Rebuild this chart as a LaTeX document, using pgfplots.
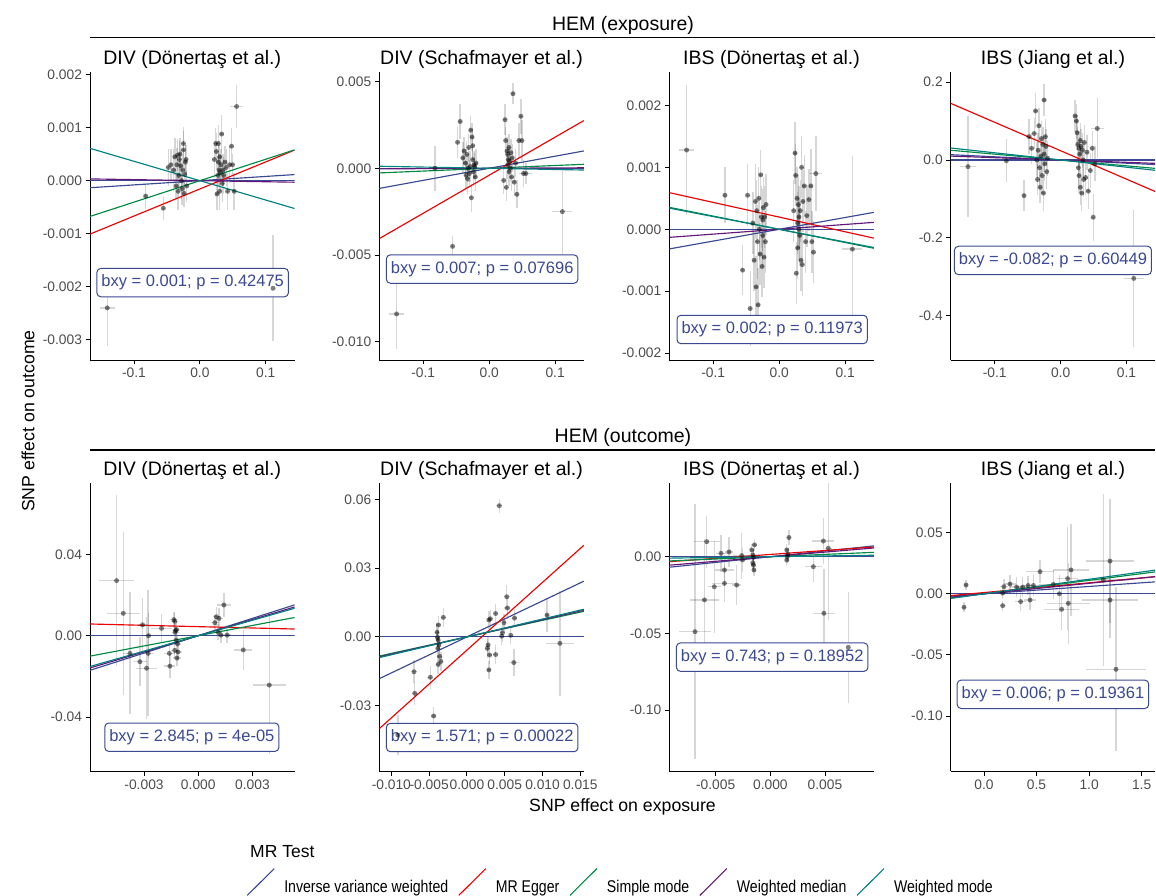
\documentclass[border=0pt]{standalone}
\usepackage{fontspec}
\setmainfont{Liberation Sans}
\newfontfamily\legfont[FakeStretch=0.83]{Liberation Sans}
\usepackage{pgfplots}
\usepackage{pgfplotstable}
\pgfplotsset{compat=1.18}

\definecolor{ivw}{HTML}{3B4992}
\definecolor{egger}{HTML}{EE0000}
\definecolor{smode}{HTML}{008B45}
\definecolor{wmed}{HTML}{631879}
\definecolor{wmode}{HTML}{008280}

% shared exposure (HEM) SNPs for the top row; a..d = outcome effects of the 4 panels
\pgfplotstableread{
x ex a ea b eb c ec d ed
-0.1405 0.0114 -0.00240 0.00072 -0.0084 0.0020 0.00128 0.00105 -0.0171 0.130
-0.0823 0.0025 -0.00029 0.00025 0.0000 0.0013 0.00055 0.00045 -0.0020 0.055
-0.0555 0.0025 -0.00052 0.00022 -0.0045 0.0006 -0.00066 0.00040 -0.0916 0.040
0.1110 0.0150 -0.00203 0.00100 -0.0025 0.0025 -0.00032 0.00150 -0.3040 0.175
0.0556 0.0100 0.00140 0.00041 -0.0003 0.0006 0.00090 0.00060 0.0810 0.077
0.0495 0.0030 0.00030 0.00020 0.0016 0.0012 -0.00020 0.00050 -0.1470 0.060
-0.048 0.003 0.00025 0.00035 0.0015 0.0009 0.00055 0.0005 0.060 0.045
-0.044 0.003 0.00030 0.00030 0.0027 0.0010 -0.00128 0.0006 0.030 0.040
-0.040 0.003 0.00020 0.00040 0.0006 0.0009 0.00010 0.0005 0.068 0.040
-0.038 0.003 0.00045 0.00035 0.0010 0.0008 -0.00050 0.0005 0.126 0.045
-0.036 0.003 -0.00010 0.00025 0.0003 0.0008 0.00045 0.0006 0.000 0.045
-0.035 0.003 0.00030 0.00032 -0.0004 0.0008 -0.00093 0.0005 -0.050 0.040
-0.034 0.003 0.00048 0.00030 0.0008 0.0008 0.00030 0.0005 0.025 0.045
-0.033 0.003 -0.00020 0.00035 -0.0006 0.0009 -0.00020 0.0006 0.088 0.045
-0.032 0.003 0.00010 0.00028 0.0000 0.0008 -0.00122 0.0006 -0.020 0.045
-0.031 0.003 0.00040 0.00035 0.0012 0.0008 0.00050 0.0005 -0.070 0.040
-0.030 0.003 0.00050 0.00030 -0.0003 0.0008 0.00000 0.0005 0.010 0.045
-0.029 0.003 0.00028 0.00030 0.0001 0.0009 -0.00040 0.0005 0.055 0.045
-0.028 0.003 0.00000 0.00035 0.0022 0.0008 0.00088 0.0004 -0.040 0.045
-0.027 0.003 -0.00015 0.00030 -0.0017 0.0008 0.00020 0.0005 0.040 0.045
-0.026 0.003 0.00020 0.00028 0.0018 0.0008 -0.00060 0.0005 -0.085 0.045
-0.025 0.003 0.00058 0.00035 0.0013 0.0008 0.00015 0.0005 0.154 0.040
-0.025 0.003 0.00070 0.00032 0.0005 0.0008 -0.00010 0.0005 0.015 0.045
-0.024 0.003 -0.00024 0.00025 -0.0002 0.0008 0.00035 0.0005 -0.010 0.045
-0.023 0.003 0.00012 0.00030 0.0002 0.0008 -0.00045 0.0005 0.060 0.045
-0.022 0.003 0.00035 0.00035 0.0001 0.0008 0.00020 0.0005 0.035 0.045
-0.021 0.003 0.00040 0.00028 -0.0005 0.0008 -0.00020 0.0005 -0.030 0.045
-0.020 0.003 -0.00010 0.00030 0.0003 0.0008 0.00040 0.0005 0.005 0.045
0.022 0.003 0.00040 0.00035 -0.0007 0.0008 0.00030 0.0005 0.113 0.040
0.024 0.003 0.00070 0.00030 0.0028 0.0009 0.00123 0.0005 0.100 0.045
0.025 0.003 0.00055 0.00035 0.0016 0.0008 0.00087 0.0005 0.070 0.045
0.026 0.003 -0.00025 0.00030 -0.0011 0.0008 -0.00071 0.0005 0.040 0.045
0.027 0.003 0.00010 0.00035 0.0010 0.0008 0.00050 0.0005 -0.020 0.045
0.028 0.003 0.00035 0.00032 0.0008 0.0008 0.00010 0.0005 0.030 0.045
0.028 0.003 0.00070 0.00035 0.0002 0.0008 -0.00030 0.0005 -0.040 0.045
0.029 0.003 0.00020 0.00030 0.0005 0.0008 0.00040 0.0005 0.015 0.045
0.030 0.003 -0.00020 0.00035 -0.0002 0.0008 0.00000 0.0005 0.050 0.045
0.030 0.003 0.00045 0.00030 0.0012 0.0008 0.00020 0.0005 -0.070 0.045
0.031 0.003 0.00015 0.00035 0.0004 0.0008 -0.00010 0.0005 0.035 0.045
0.032 0.003 0.00030 0.00030 0.0000 0.0008 0.00030 0.0005 -0.085 0.045
0.033 0.003 0.00088 0.00035 0.0009 0.0008 -0.00050 0.0005 0.025 0.045
0.034 0.003 -0.00005 0.00035 -0.0005 0.0008 0.00100 0.0005 0.000 0.045
0.035 0.003 0.00020 0.00030 0.0006 0.0008 -0.00057 0.0005 -0.050 0.045
0.036 0.003 0.00010 0.00035 0.0043 0.0006 0.00045 0.0005 0.045 0.045
0.038 0.003 0.00035 0.00030 -0.0008 0.0008 0.00070 0.0005 -0.045 0.045
0.040 0.003 0.00025 0.00035 0.0003 0.0008 -0.00020 0.0005 0.020 0.045
0.042 0.003 -0.00020 0.00035 -0.0015 0.0008 0.00022 0.0005 -0.080 0.045
0.045 0.003 0.00030 0.00035 0.0016 0.0010 0.00048 0.0005 -0.027 0.045
0.048 0.003 0.00065 0.00035 0.0030 0.0010 0.00070 0.0006 0.030 0.045
0.052 0.003 -0.00020 0.00035 -0.0003 0.0008 -0.00037 0.0005 -0.010 0.045
}\toptab

\pgfplotstableread{
x y ex ey
-0.00452 0.0271 0.00097 0.042
-0.00415 0.0110 0.00090 0.040
-0.00378 -0.0087 0.00040 0.030
-0.00323 -0.0128 0.00040 0.012
-0.00308 0.0053 0.00030 0.013
-0.00286 -0.0160 0.00060 0.025
-0.00277 -0.0087 0.00030 0.031
-0.00275 0.0000 0.00030 0.011
-0.00203 0.0036 0.00060 0.007
-0.00157 -0.0150 0.00030 0.006
-0.00160 -0.0087 0.00030 0.006
-0.00135 0.0079 0.00020 0.004
-0.00130 0.0071 0.00020 0.004
-0.00128 0.0017 0.00020 0.004
-0.00125 0.0026 0.00020 0.004
-0.00122 -0.0023 0.00020 0.004
-0.00130 -0.0072 0.00020 0.004
-0.00118 -0.0110 0.00020 0.004
-0.00115 -0.0040 0.00020 0.004
-0.00120 0.0030 0.00020 0.004
-0.00112 -0.0080 0.00020 0.004
0.00092 0.0064 0.00020 0.004
0.00100 0.0093 0.00020 0.005
0.00115 0.0085 0.00020 0.005
0.00142 0.0151 0.00040 0.006
0.00110 0.0017 0.00020 0.004
0.00125 0.0003 0.00020 0.004
0.00160 0.0003 0.00020 0.004
0.00249 -0.0070 0.00050 0.010
0.00393 -0.0243 0.00090 0.034
}\tabE

\pgfplotstableread{
x y ex ey
0.00428 0.0572 0.0004 0.0030
-0.00700 -0.0152 0.0004 0.0050
-0.00690 -0.0246 0.0004 0.0050
-0.00484 -0.0176 0.0004 0.0050
-0.00440 -0.0345 0.0003 0.0040
-0.00914 -0.0428 0.0013 0.0087
-0.00377 0.0052 0.0003 0.0040
-0.00312 0.0085 0.0003 0.0040
-0.00390 -0.0002 0.0003 0.0040
-0.00380 -0.0014 0.0003 0.0040
-0.00370 -0.0035 0.0003 0.0040
-0.00385 -0.0050 0.0003 0.0040
-0.00360 -0.0085 0.0003 0.0040
-0.00345 -0.0107 0.0003 0.0040
-0.00380 -0.0120 0.0003 0.0040
-0.00395 0.0020 0.0003 0.0040
0.00290 0.0074 0.0003 0.0040
0.00310 0.0079 0.0003 0.0040
0.00380 0.0102 0.0003 0.0040
0.00280 -0.0035 0.0003 0.0040
0.00270 -0.0050 0.0003 0.0040
0.00300 -0.0079 0.0003 0.0040
0.00290 -0.0144 0.0003 0.0040
0.00380 -0.0077 0.0003 0.0040
0.00527 0.0175 0.0004 0.0050
0.00535 0.0126 0.0004 0.0050
0.00490 0.0062 0.0003 0.0040
0.00470 0.0018 0.0003 0.0040
0.00460 0.0003 0.0003 0.0040
0.00580 0.0007 0.0003 0.0040
0.00630 0.0082 0.0003 0.0040
0.00620 -0.0112 0.0007 0.0060
0.01230 -0.0028 0.0018 0.0230
0.01060 0.0095 0.0003 0.0075
}\tabF

\pgfplotstableread{
x y ex ey
-0.00689 -0.0489 0.0015 0.083
-0.00582 0.0098 0.0012 0.017
-0.00603 -0.0282 0.0013 0.040
-0.00513 -0.0196 0.0006 0.030
-0.00451 0.0022 0.0005 0.012
-0.00420 -0.0087 0.0009 0.010
-0.00420 -0.0174 0.0011 0.012
-0.00378 0.0031 0.0004 0.010
-0.00308 -0.0185 0.0004 0.013
-0.00262 0.0007 0.0008 0.015
-0.00255 -0.0021 0.0003 0.008
-0.00170 0.0044 0.0002 0.004
-0.00160 0.0011 0.0002 0.004
-0.00155 -0.0004 0.0002 0.004
-0.00160 -0.0040 0.0002 0.004
-0.00155 -0.0055 0.0002 0.004
-0.00150 -0.0087 0.0002 0.004
-0.00145 0.0077 0.0002 0.004
0.00150 0.0044 0.0002 0.004
0.00160 0.0015 0.0002 0.004
0.00170 0.0125 0.0002 0.005
0.00150 -0.0022 0.0002 0.004
0.00155 0.0000 0.0002 0.004
0.00393 -0.0065 0.0008 0.010
0.00485 0.0102 0.0010 0.015
0.00530 0.0055 0.0003 0.047
0.00490 -0.0369 0.0010 0.029
0.00713 -0.0591 0.0012 0.036
}\tabG

\pgfplotstableread{
x y ex ey
-0.190 -0.0110 0.020 0.004
-0.171 0.0072 0.020 0.004
0.178 -0.0097 0.030 0.004
0.190 0.0058 0.040 0.006
0.178 0.0005 0.030 0.005
0.247 0.0080 0.060 0.007
0.310 0.0055 0.060 0.008
0.349 -0.0064 0.050 0.008
0.368 0.0055 0.060 0.008
0.420 0.0068 0.060 0.008
0.438 -0.0051 0.060 0.008
0.470 0.0068 0.070 0.009
0.533 0.0181 0.135 0.0095
0.660 0.0077 0.135 0.012
0.717 0.0000 0.150 0.015
0.739 -0.0127 0.166 0.017
0.796 0.0124 0.100 0.042
0.802 -0.0078 0.206 0.033
0.828 0.0195 0.174 0.038
1.135 0.0113 0.246 0.070
1.199 0.0268 0.230 0.051
1.199 -0.0051 0.270 0.031
1.256 -0.0618 0.285 0.067
}\tabH

\tikzset{
  lbl/.style={draw=ivw, line width=1pt, rounded corners=4pt, fill=white, text=ivw,
    font=\fontsize{16.5}{18}\selectfont, inner xsep=4.5pt, inner ysep=0pt,
    minimum height=28.4pt},
}
\pgfplotsset{
  every axis title/.style={at={(0.5,1)}, anchor=base, yshift=8pt,
    font=\fontsize{19.5}{22}\selectfont},
  panel/.style={
    scale only axis, width=204.5pt, anchor=south west,
    scaled x ticks=false, scaled y ticks=false,
    axis lines=left, axis line style={-, line width=0.9pt, black},
    tick align=outside, major tick length=4.5pt,
    every tick/.style={black, line width=0.9pt},
    ticklabel style={font=\fontsize{13.8}{15}\selectfont, text=black!70},
    clip=true,
  },
  toprow/.style={panel, height=287.7pt, xmin=-0.1667, xmax=0.1435,
    xtick={-0.1,0,0.1}, xticklabels={-0.1,0.0,0.1}},
  botrow/.style={panel, height=288pt},
  pts/.style={only marks, mark=*, mark size=2.5pt,
    mark options={solid, draw=black, draw opacity=0, fill=black, fill opacity=0.5},
    error bars/.cd, x dir=both, x explicit, y dir=both, y explicit,
    error mark=none, error bar style={line width=1.4pt, draw=black, draw opacity=0.16}},
  mrline/.style={line width=1.15pt, no marks},
}

\begin{document}
\begin{tikzpicture}
\useasboundingbox (0pt,0pt) rectangle (1156pt,896pt);

% ---------- top row: HEM exposure ----------
\begin{axis}[toprow, at={(90pt,536pt)}, title={DIV (Dönertaş et al.)},
  ymin=-0.003383, ymax=0.002045,
  ytick={-0.003,-0.002,-0.001,0,0.001,0.002},
  yticklabels={-0.003,-0.002,-0.001,0.000,0.001,0.002}]
\addplot[pts] table[x=x, y=a, x error=ex, y error=ea] {\toptab};
\addplot[mrline, ivw] coordinates {(-0.1667,0) (0.1435,0)};
\addplot[mrline, ivw] coordinates {(-0.1667,-0.000133) (0.1435,0.000115)};
\addplot[mrline, egger] coordinates {(-0.1667,-0.001008) (0.1435,0.000577)};
\addplot[mrline, smode] coordinates {(-0.1667,-0.000675) (0.1435,0.000581)};
\addplot[mrline, wmed] coordinates {(-0.1667,0.0000333) (0.1435,-0.0000287)};
\addplot[mrline, wmode] coordinates {(-0.1667,0.00061) (0.1435,-0.000525)};
\node[lbl] at (rel axis cs:0.502,0.269) {bxy = 0.001; p = 0.42475};
\end{axis}

\begin{axis}[toprow, at={(379.3pt,536pt)}, title={DIV (Schafmayer et al.)},
  ymin=-0.011055, ymax=0.005536,
  ytick={-0.01,-0.005,0,0.005},
  yticklabels={-0.010,-0.005,0.000,0.005}]
\addplot[pts] table[x=x, y=b, x error=ex, y error=eb] {\toptab};
\addplot[mrline, ivw] coordinates {(-0.1667,0) (0.1435,0)};
\addplot[mrline, ivw] coordinates {(-0.1667,-0.00116) (0.1435,0.000999)};
\addplot[mrline, egger] coordinates {(-0.1667,-0.004055) (0.1435,0.00275)};
\addplot[mrline, smode] coordinates {(-0.1667,-0.000267) (0.1435,0.00023)};
\addplot[mrline, wmed] coordinates {(-0.1667,-0.0000333) (0.1435,0.0000287)};
\addplot[mrline, wmode] coordinates {(-0.1667,0.000117) (0.1435,-0.0001)};
\node[lbl] at (rel axis cs:0.503,0.316) {bxy = 0.007; p = 0.07696};
\end{axis}

\begin{axis}[toprow, at={(669.3pt,536pt)}, title={IBS (Dönertaş et al.)},
  ymin=-0.002111, ymax=0.002536,
  ytick={-0.002,-0.001,0,0.001,0.002},
  yticklabels={-0.002,-0.001,0.000,0.001,0.002}]
\addplot[pts] table[x=x, y=c, x error=ex, y error=ec] {\toptab};
\addplot[mrline, ivw] coordinates {(-0.1667,0) (0.1435,0)};
\addplot[mrline, ivw] coordinates {(-0.1667,-0.000317) (0.1435,0.000273)};
\addplot[mrline, egger] coordinates {(-0.1667,0.000592) (0.1435,-0.000143)};
\addplot[mrline, smode] coordinates {(-0.1667,0.000355) (0.1435,-0.000306)};
\addplot[mrline, wmed] coordinates {(-0.1667,-0.00013) (0.1435,0.000112)};
\addplot[mrline, wmode] coordinates {(-0.1667,0.000342) (0.1435,-0.000294)};
\node[lbl] at (rel axis cs:0.503,0.106) {bxy = 0.002; p = 0.11973};
\end{axis}

\begin{axis}[toprow, at={(950.7pt,536pt)}, title={IBS (Jiang et al.)},
  ymin=-0.5135, ymax=0.2252,
  ytick={-0.4,-0.2,0,0.2},
  yticklabels={-0.4,-0.2,0.0,0.2}]
\addplot[pts] table[x=x, y=d, x error=ex, y error=ed] {\toptab};
\addplot[mrline, ivw] coordinates {(-0.1667,0) (0.1435,0)};
\addplot[mrline, ivw] coordinates {(-0.1667,0.01367) (0.1435,-0.01177)};
\addplot[mrline, egger] coordinates {(-0.1667,0.1455) (0.1435,-0.0810)};
\addplot[mrline, smode] coordinates {(-0.1667,0.025) (0.1435,-0.0215)};
\addplot[mrline, wmed] coordinates {(-0.1667,0.01) (0.1435,-0.0086)};
\addplot[mrline, wmode] coordinates {(-0.1667,0.0308) (0.1435,-0.0265)};
\node[lbl] at (rel axis cs:0.50,0.346) {bxy = -0.082; p = 0.60449};
\end{axis}

% ---------- bottom row: HEM outcome ----------
\begin{axis}[botrow, at={(90pt,124.5pt)}, title={DIV (Dönertaş et al.)},
  xmin=-0.00599, xmax=0.005325, ymin=-0.06681, ymax=0.07488,
  xtick={-0.003,0,0.003}, xticklabels={-0.003,0.000,0.003},
  ytick={-0.04,0,0.04}, yticklabels={-0.04,0.00,0.04},
  legend columns=5,
  legend style={at={(0.7663,-0.3837)}, anchor=west, draw=none, fill=none,
    inner sep=0pt, outer sep=0pt, column sep=0pt, row sep=0pt,
    font={\legfont\fontsize{17}{19}\selectfont}, nodes={inner sep=0pt, text=black}},
  legend cell align=left,
  legend image code/.code={\draw[#1, line width=1.1pt] (0pt,-8.2pt) -- (27pt,18.6pt);},
  /tikz/every odd column/.append style={column sep=9.5pt},
  /tikz/every even column/.append style={column sep=10pt},
  legend entries={Inverse variance weighted, MR Egger, Simple mode, Weighted median, Weighted mode}]
\addlegendimage{ivw}
\addlegendimage{egger}
\addlegendimage{smode}
\addlegendimage{wmed}
\addlegendimage{wmode}
\addplot[pts] table[x=x, y=y, x error=ex, y error=ey] {\tabE};
\addplot[mrline, ivw] coordinates {(-0.00599,0) (0.005325,0)};
\addplot[mrline, ivw] coordinates {(-0.00599,-0.01704) (0.005325,0.01515)};
\addplot[mrline, egger] coordinates {(-0.00599,0.00576) (0.005325,0.003284)};
\addplot[mrline, smode] coordinates {(-0.00599,-0.01006) (0.005325,0.008946)};
\addplot[mrline, wmed] coordinates {(-0.00599,-0.01587) (0.005325,0.01411)};
\addplot[mrline, wmode] coordinates {(-0.00599,-0.01515) (0.005325,0.01347)};
\node[lbl] at (rel axis cs:0.498,0.119) {bxy = 2.845; p = 4e-05};
\end{axis}

\begin{axis}[botrow, at={(379.3pt,124.5pt)}, title={DIV (Schafmayer et al.)},
  xmin=-0.01159, xmax=0.01546, ymin=-0.0587, ymax=0.0669,
  xtick={-0.01,-0.005,0,0.005,0.01,0.015},
  xticklabels={-0.010,-0.005,0.000,0.005,0.010,0.015},
  ytick={-0.03,0,0.03,0.06}, yticklabels={-0.03,0.00,0.03,0.06}]
\addplot[pts] table[x=x, y=y, x error=ex, y error=ey] {\tabF};
\addplot[mrline, ivw] coordinates {(-0.01159,0) (0.01546,0)};
\addplot[mrline, ivw] coordinates {(-0.01159,-0.01821) (0.01546,0.02429)};
\addplot[mrline, egger] coordinates {(-0.01159,-0.04002) (0.01546,0.03994)};
\addplot[mrline, smode] coordinates {(-0.01159,-0.008345) (0.01546,0.011131)};
\addplot[mrline, wmed] coordinates {(-0.01159,-0.008693) (0.01546,0.011595)};
\addplot[mrline, wmode] coordinates {(-0.01159,-0.00904) (0.01546,0.012059)};
\node[lbl] at (rel axis cs:0.503,0.118) {bxy = 1.571; p = 0.00022};
\end{axis}

\begin{axis}[botrow, at={(669.3pt,124.5pt)}, title={IBS (Dönertaş et al.)},
  xmin=-0.009245, xmax=0.009465, ymin=-0.1401, ymax=0.04775,
  xtick={-0.005,0,0.005}, xticklabels={-0.005,0.000,0.005},
  ytick={-0.1,-0.05,0}, yticklabels={-0.10,-0.05,0.00}]
\addplot[pts] table[x=x, y=y, x error=ex, y error=ey] {\tabG};
\addplot[mrline, ivw] coordinates {(-0.009245,0) (0.009465,0)};
\addplot[mrline, ivw] coordinates {(-0.009245,-0.006869) (0.009465,0.007032)};
\addplot[mrline, egger] coordinates {(-0.009245,-0.003253) (0.009465,0.006326)};
\addplot[mrline, smode] coordinates {(-0.009245,-0.002774) (0.009465,0.00284)};
\addplot[mrline, wmed] coordinates {(-0.009245,-0.005547) (0.009465,0.005679)};
\addplot[mrline, wmode] coordinates {(-0.009245,-0.000925) (0.009465,0.000947)};
\node[lbl] at (rel axis cs:0.503,0.397) {bxy = 0.743; p = 0.18952};
\end{axis}

\begin{axis}[botrow, at={(950.7pt,124.5pt)}, title={IBS (Jiang et al.)},
  xmin=-0.3168, xmax=1.629, ymin=-0.1454, ymax=0.09026,
  xtick={0,0.5,1,1.5}, xticklabels={0.0,0.5,1.0,1.5},
  ytick={-0.1,-0.05,0,0.05}, yticklabels={-0.10,-0.05,0.00,0.05}]
\addplot[pts] table[x=x, y=y, x error=ex, y error=ey] {\tabH};
\addplot[mrline, ivw] coordinates {(-0.3168,0) (1.629,0)};
\addplot[mrline, ivw] coordinates {(-0.3168,-0.001901) (1.629,0.009774)};
\addplot[mrline, egger] coordinates {(-0.3168,-0.001505) (1.629,0.014003)};
\addplot[mrline, smode] coordinates {(-0.3168,-0.003485) (1.629,0.017919)};
\addplot[mrline, wmed] coordinates {(-0.3168,-0.002724) (1.629,0.014009)};
\addplot[mrline, wmode] coordinates {(-0.3168,-0.00377) (1.629,0.019385)};
\node[lbl] at (rel axis cs:0.50,0.268) {bxy = 0.006; p = 0.19361};
\end{axis}

% ---------- strips, axis titles, legend title ----------
\draw[line width=1.3pt, black] (90pt,858.3pt) -- (1155.2pt,858.3pt);
\node[anchor=base, font=\fontsize{19.5}{22}\selectfont] at (623pt,865pt) {HEM (exposure)};
\draw[line width=1.3pt, black] (90pt,446pt) -- (1155.2pt,446pt);
\node[anchor=base, font=\fontsize{19.5}{22}\selectfont] at (623pt,453pt) {HEM (outcome)};
\node[rotate=90, font=\fontsize{17.7}{20}\selectfont] at (28pt,475pt) {SNP effect on outcome};
\node[anchor=base, font=\fontsize{17.7}{20}\selectfont] at (622.5pt,84.3pt) {SNP effect on exposure};
\node[anchor=base west, font=\fontsize{17.5}{20}\selectfont] at (246.7pt,38.3pt) {MR Test};
\end{tikzpicture}
\end{document}
